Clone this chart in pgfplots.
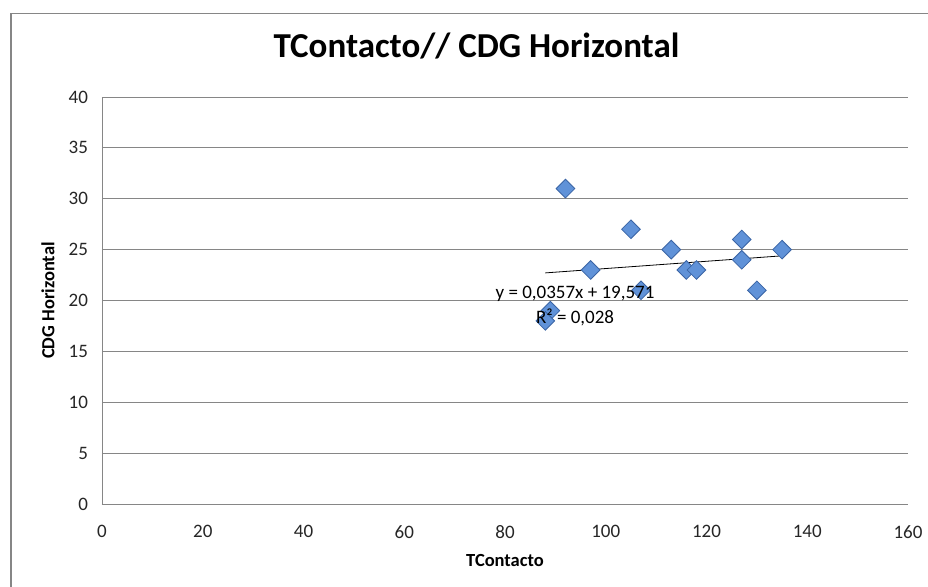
\documentclass[border=0pt]{standalone}
\usepackage{pgfplots}
\pgfplotsset{compat=1.18}
\usepackage{fontspec}
\setmainfont{Carlito}
\definecolor{mkfill}{RGB}{96,146,216}
\definecolor{mkdraw}{RGB}{58,100,165}
\definecolor{gridc}{RGB}{134,134,134}
\definecolor{framec}{RGB}{134,134,134}
\begin{document}
\begin{tikzpicture}[x=1pt,y=1pt]
\fill[white] (-102,504) rectangle (826,-82);
\draw[framec, line width=1.5pt] (-91,-200) -- (-91,490.5) -- (900,490.5);
\begin{axis}[
  at={(0,0)}, anchor=south west,
  width=806pt, height=407pt, scale only axis,
  xmin=0, xmax=160, ymin=0, ymax=40,
  xtick={0,20,...,160}, ytick={0,5,...,40},
  ymajorgrids, grid style={gridc, line width=0.8pt},
  axis x line*=bottom, axis y line*=left,
  axis line style={gridc, line width=0.8pt, -},
  tick style={draw=none},
  /pgf/number format/assume math mode=true,
  ticklabel style={font=\fontsize{19}{22}\selectfont, text=black!85},
  xticklabel style={yshift=-18pt},
  yticklabel style={xshift=-10.5pt},
  xlabel={TContacto}, ylabel={CDG Horizontal},
  xlabel style={font=\bfseries\fontsize{18.5}{22}\selectfont, at={(axis description cs:0.5,0)}, anchor=base, yshift=-62pt},
  ylabel style={font=\bfseries\fontsize{18.5}{22}\selectfont, at={(axis description cs:0,0.5)}, anchor=center, yshift=54pt},
  title={TContacto// CDG Horizontal},
  title style={font=\bfseries\fontsize{35}{39}\selectfont, at={(axis description cs:0.4646,1)}, anchor=base, yshift=34pt},
  clip=false,
]
\addplot[black, line width=0.8pt] coordinates {(88,22.7126) (135,24.3905)};
\addplot[only marks, mark=square*, mark size=6.6pt,
  mark options={rotate=45, fill=mkfill, draw=mkdraw, line width=0.8pt}]
  coordinates {
  (92,31) (97,23) (105,27) (107,21) (113,25) (116,23) (118,23)
  (127,26) (127,24) (130,21) (135,25) (89,19) (88,18)
  };
\coordinate (eqa) at (axis cs:93.9,20.7);
\coordinate (eqb) at (axis cs:93.9,18.35);
\end{axis}
\node[font=\fontsize{19}{22}\selectfont, text=black] at (eqa) {y = 0,0357x + 19,571};
\node[font=\fontsize{19}{22}\selectfont, text=black] at (eqb) {R² = 0,028};
\pgfresetboundingbox
\useasboundingbox (-102,504) rectangle (826,-82);
\end{tikzpicture}
\end{document}
